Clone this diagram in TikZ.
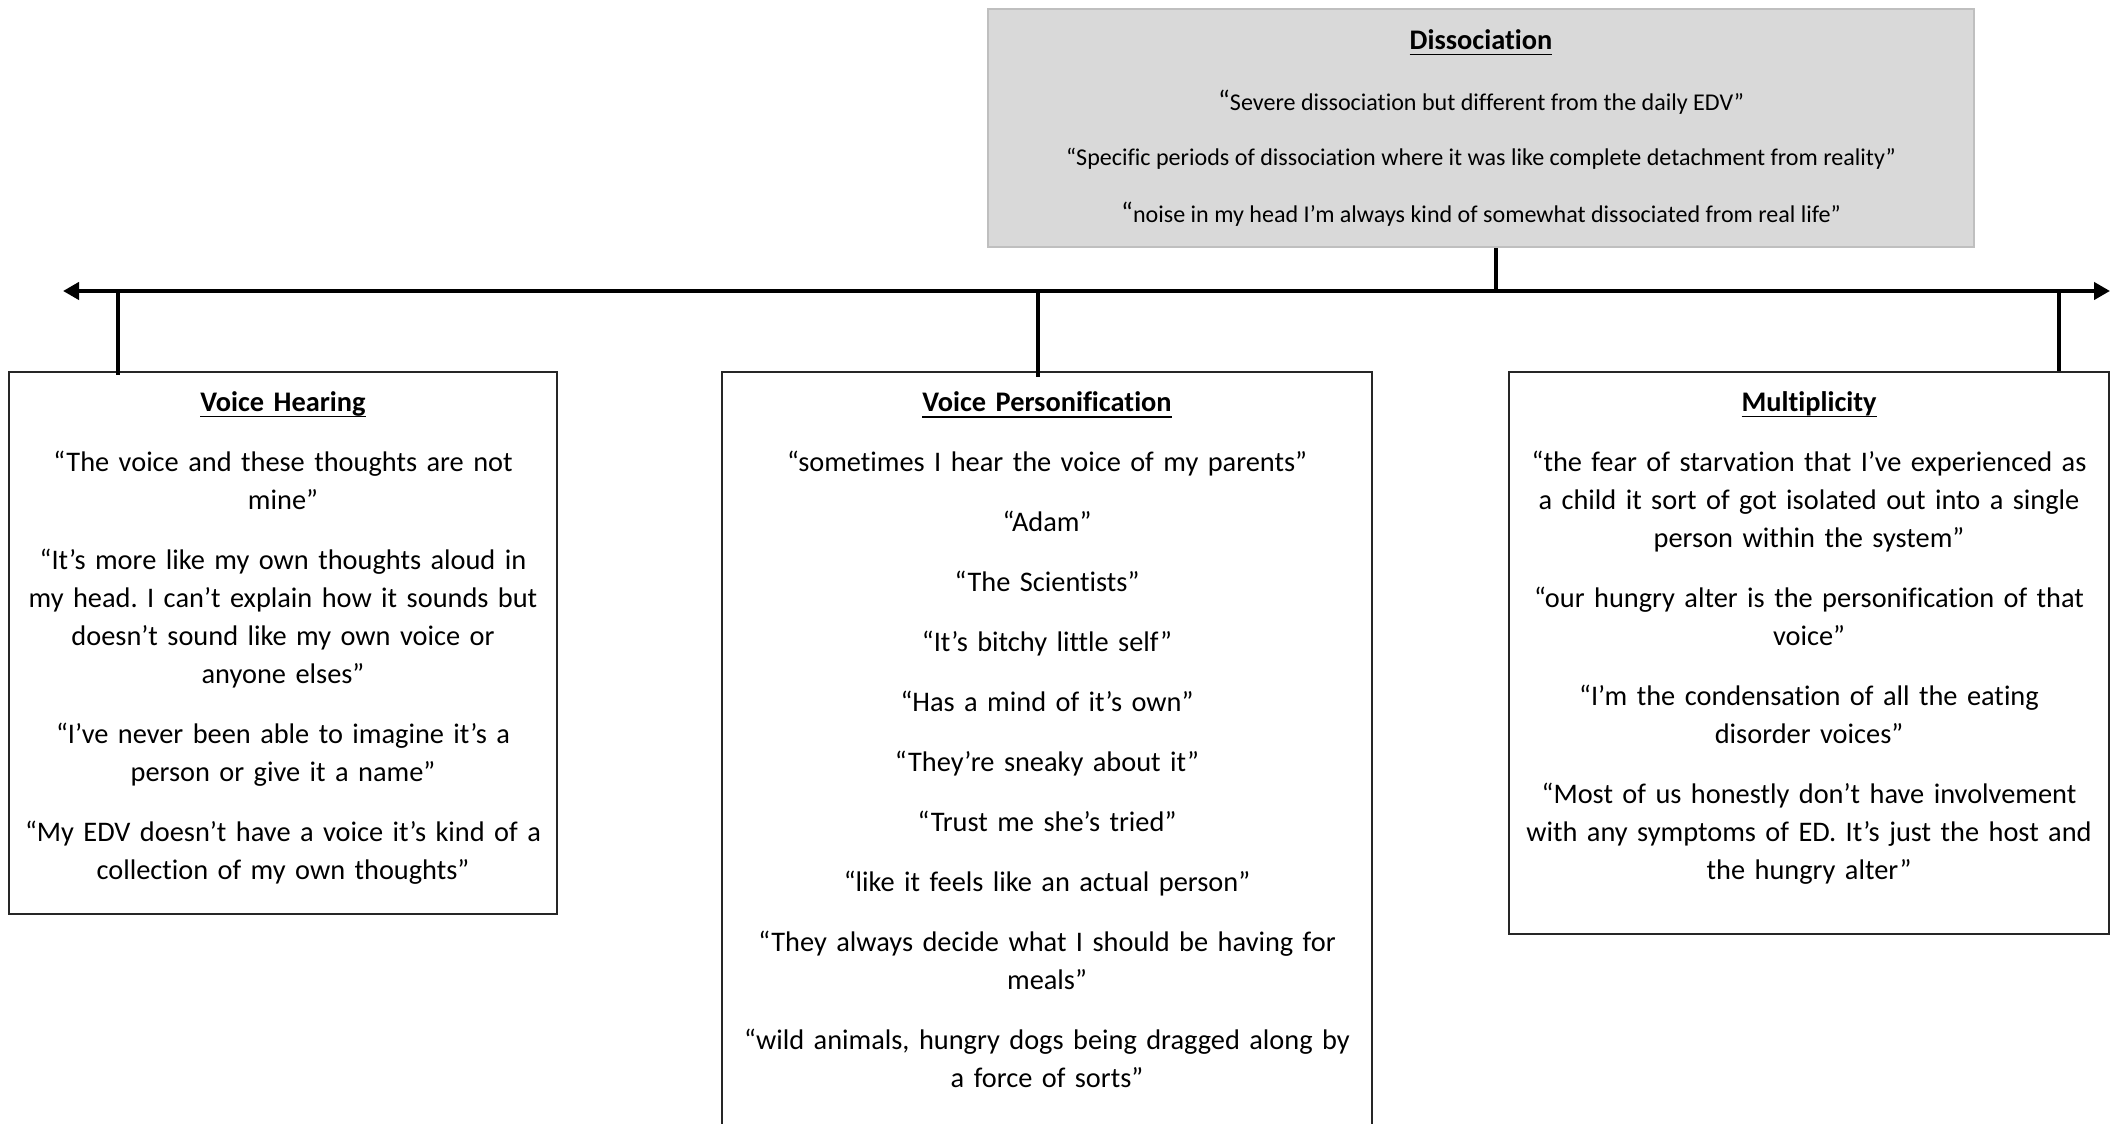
\documentclass[tikz,border=0pt]{standalone}
\usepackage{fontspec}
\setmainfont{Carlito}[Ligatures={TeX,NoCommon}]
\usetikzlibrary{arrows.meta,positioning,calc}
\definecolor{boxgrey}{RGB}{217,217,217}
\definecolor{boxline}{RGB}{191,191,191}
\newcommand{\qsize}{\fontsize{8.07pt}{0.38cm}\selectfont}
\newcommand{\dsize}{\fontsize{6.85pt}{0.3cm}\selectfont}
\newcommand{\heading}[1]{\underline{\raisebox{0pt}[\height][0pt]{\textbf{#1}}}}
% empty last line, lifts the text a little inside its box
\newcommand{\lift}[1]{\\[#1]\mbox{}}
\hyphenpenalty=10000
\frenchspacing
\tikzset{
  themebox/.style={draw=black!85,line width=0.4pt,fill=white,align=center,font=\qsize,inner sep=0pt},
  dissbox/.style={draw=boxline,line width=0.5pt,fill=boxgrey,align=center,font=\qsize,inner sep=0pt},
  tap/.style={line width=1pt},
  axis/.style={line width=1.15pt,{Triangle[length=1.6mm,width=1.7mm]}-{Triangle[length=1.6mm,width=1.7mm]}}
}

\begin{document}
\begin{tikzpicture}
\useasboundingbox[fill=white] (0,0) rectangle (21.2,-11.24);
\clip (0,0) rectangle (21.2,-11.24);

% top theme
\node[dissbox,minimum width=9.86cm,minimum height=2.38cm] (diss) at (14.81,-1.28) {\heading{Dissociation}\\[0.23cm]
{\dsize{\qsize“}Severe dissociation but different from the daily EDV”}\\[0.17cm]
{\dsize “Specific periods of dissociation where it was like complete detachment from reality”}\\[0.19cm]
{\dsize{\qsize“}noise in my head I’m always kind of somewhat dissociated from real life”}};

% three sub themes
\node[themebox,text width=5.4cm,minimum width=5.48cm,minimum height=5.42cm] (hear) at (2.83,-6.43) {\heading{Voice Hearing}\\[0.22cm]
“The voice and these thoughts are not\\ mine”\\[0.22cm]
“It’s more like my own thoughts aloud in\\ my head. I can’t explain how it sounds but\\ doesn’t sound like my own voice or\\ anyone elses”\\[0.22cm]
“I’ve never been able to imagine it’s a\\ person or give it a name”\\[0.22cm]
“My EDV doesn’t have a voice it’s kind of a\\ collection of my own thoughts”\lift{-0.23cm}};

\node[themebox,text width=6.4cm,minimum width=6.5cm,minimum height=7.6cm] (pers) at (10.47,-7.52) {\heading{Voice Personification}\\[0.22cm]
“sometimes I hear the voice of my parents”\\[0.22cm]
“Adam”\\[0.22cm]
“The Scientists”\\[0.22cm]
“It’s bitchy little self”\\[0.22cm]
“Has a mind of it’s own”\\[0.22cm]
“They’re sneaky about it”\\[0.22cm]
“Trust me she’s tried”\\[0.22cm]
“like it feels like an actual person”\\[0.22cm]
“They always decide what I should be having for\\ meals”\\[0.22cm]
“wild animals, hungry dogs being dragged along by\\ a force of sorts”\lift{-0.14cm}};

\node[themebox,text width=5.9cm,minimum width=6cm,minimum height=5.62cm] (mult) at (18.09,-6.53) {\heading{Multiplicity}\\[0.22cm]
“the fear of starvation that I’ve experienced as\\ a child it sort of got isolated out into a single\\ person within the system”\\[0.22cm]
“our hungry alter is the personification of that\\ voice”\\[0.22cm]
“I’m the condensation of all the eating\\ disorder voices”\\[0.22cm]
“Most of us honestly don’t have involvement\\ with any symptoms of ED. It’s just the host and\\ the hungry alter”\lift{-0.03cm}};

% axis and taps
\coordinate (axl) at (0.63,-2.91);
\coordinate (axr) at (21.1,-2.91);
\coordinate (tapd) at (14.96,-2.91);
\coordinate (taph) at (1.18,-2.91);
\coordinate (tapp) at (10.38,-2.91);
\coordinate (tapm) at (20.59,-2.91);
\draw[axis] (axl) -- (axr);
\draw[tap] (tapd) -- (tapd |- diss.south);
\draw[tap] (taph) -- ([yshift=-0.04cm]taph |- hear.north);
\draw[tap] (tapp) -- ([yshift=-0.06cm]tapp |- pers.north);
\draw[tap] (tapm) -- (tapm |- mult.north);
\end{tikzpicture}
\end{document}
